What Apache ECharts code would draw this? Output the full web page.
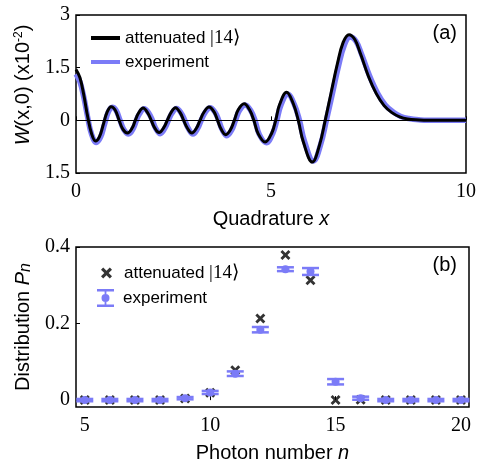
<!DOCTYPE html>
<html>
<head>
<meta charset="utf-8">
<script src="https://cdn.jsdelivr.net/npm/echarts@6/dist/echarts.min.js"></script>
<style>html,body{margin:0;padding:0;background:#fff;}#c{width:479px;height:466px;}</style>
</head>
<body>
<div id="c"></div>
<script>
// ---- Panel (a): Wigner function W(x,0) (x10^-2) ----
const theoryX = [0,0.1,0.2,0.3,0.4,0.5,0.6,0.7,0.8,0.9,1.0,1.1,1.2,1.32,1.44,1.52,1.6,1.72,1.84,1.93,2.01,2.13,2.25,2.34,2.43,2.55,2.67,2.76,2.85,2.97,3.09,3.18,3.28,3.41,3.54,3.63,3.72,3.84,3.96,4.06,4.16,4.31,4.45,4.56,4.67,4.85,5.02,5.12,5.22,5.4,5.57,5.7,5.83,6.06,6.24,6.39,6.54,6.7,6.85,7.0,7.15,7.3,7.5,7.7,7.9,8.1,8.3,8.5,8.8,9.0,10];
const theoryW = [1.45,1.22,0.72,0.1,-0.38,-0.59,-0.47,-0.12,0.24,0.39,0.30,0.02,-0.25,-0.36,-0.22,0.0,0.2,0.35,0.21,0.0,-0.2,-0.35,-0.21,0.0,0.21,0.36,0.22,0.0,-0.21,-0.36,-0.22,0.0,0.23,0.38,0.24,0.0,-0.25,-0.41,-0.27,0.0,0.3,0.47,0.3,0.0,-0.38,-0.62,-0.36,0.0,0.45,0.8,0.48,0.0,-0.62,-1.19,-0.72,0.0,0.78,1.6,2.22,2.44,2.3,1.88,1.25,0.76,0.42,0.22,0.1,0.04,0.01,0.0,0.0];
const expX = [0,0.1,0.2,0.3,0.4,0.52,0.63,0.73,0.83,0.93,1.03,1.13,1.23,1.35,1.47,1.55,1.63,1.75,1.87,1.96,2.04,2.16,2.28,2.37,2.46,2.58,2.7,2.79,2.88,3.0,3.12,3.21,3.31,3.44,3.57,3.66,3.75,3.87,3.99,4.09,4.19,4.34,4.48,4.59,4.7,4.88,5.05,5.15,5.25,5.43,5.6,5.73,5.86,6.09,6.27,6.42,6.57,6.73,6.88,7.03,7.18,7.33,7.53,7.73,7.93,8.13,8.33,8.53,8.83,9.03,10];
const expW = [1.32,1.1,0.66,0.08,-0.4,-0.63,-0.48,-0.12,0.24,0.37,0.28,0.0,-0.27,-0.39,-0.23,0.0,0.19,0.33,0.2,0.0,-0.22,-0.38,-0.22,0.0,0.2,0.34,0.2,0.0,-0.23,-0.39,-0.23,0.0,0.22,0.36,0.22,0.0,-0.27,-0.44,-0.28,0.0,0.28,0.44,0.28,0.0,-0.4,-0.64,-0.36,0.0,0.42,0.74,0.45,0.0,-0.6,-1.16,-0.7,0.0,0.74,1.54,2.14,2.37,2.25,1.86,1.26,0.78,0.44,0.24,0.11,0.05,0.01,0.0,0.0];
const quadTicks = [0,5,10];
const wTicks = [-1.5,0,1.5,3];

// ---- Panel (b): photon number distribution ----
const photonN = [5,6,7,8,9,10,11,12,13,14,15,16,17,18,19,20];
const theoryP = [0.000,0.000,0.000,0.000,0.004,0.019,0.078,0.213,0.379,0.313,0.000,0.001,0.000,0.000,0.000,0.000];
const expP    = [0.000,0.000,0.000,0.000,0.005,0.020,0.069,0.184,0.342,0.336,0.048,0.005,0.000,0.000,0.000,0.000];
const expErr  = [0.003,0.003,0.003,0.003,0.003,0.004,0.006,0.007,0.005,0.009,0.007,0.004,0.003,0.003,0.003,0.003];
const nTicks = [5,10,15,20];
const pTicks = [0,0.2,0.4];

const BLUE = '#7b7bf7';
const SANS = 'Liberation Sans, Arial, Helvetica, sans-serif';
const SERIF = 'Liberation Serif, Times New Roman, serif';
const crossPath = 'path://M0,2L2,0L5,3L8,0L10,2L7,5L10,8L8,10L5,7L2,10L0,8L3,5Z';
const errIcon = 'path://M0,0L17,0L17,2.5L0,2.5Z M0,15.5L17,15.5L17,18L0,18Z M7.6,0L9.4,0L9.4,18L7.6,18Z M4.5,9A4,4 0 1,1 12.5,9A4,4 0 1,1 4.5,9Z';

const chart = echarts.init(document.getElementById('c'), null, {renderer:'canvas'});

const axisLabelSerif = {color:'#000', fontFamily:SERIF, fontSize:20};
const nameStyle = {color:'#000', fontFamily:SANS, fontSize:20, rich:{
  i:{fontStyle:'italic', fontFamily:SANS, fontSize:20, color:'#000'},
  s:{fontFamily:SANS, fontSize:12, color:'#000', verticalAlign:'top', padding:[0,0,9,0]},
  sub:{fontStyle:'italic', fontFamily:SANS, fontSize:16, color:'#000', padding:[6,0,0,0]}
}};

const legendText = {color:'#000', fontFamily:SANS, fontSize:17, lineHeight:20,
  rich:{m:{fontFamily:SERIF, fontSize:19, color:'#000', lineHeight:20}}};

chart.setOption({
  backgroundColor:'#fff',
  animation:false,
  title:[
    {text:'(a)', right:17, top:18, textStyle:{fontFamily:SANS, fontSize:20, fontWeight:'normal', color:'#000'}},
    {text:'(b)', right:17, top:250, textStyle:{fontFamily:SANS, fontSize:20, fontWeight:'normal', color:'#000'}}
  ],
  legend:[
    {orient:'vertical', left:86, top:23, itemWidth:29, itemHeight:4, itemGap:4, selectedMode:false,
     textStyle:Object.assign({padding:[0,0,0,0]}, legendText),
     data:[{name:'attenuated', icon:'rect'},{name:'experiment', icon:'rect'}],
     formatter:n => n==='attenuated' ? 'attenuated {m||14⟩}' : 'experiment'},
    {orient:'vertical', left:96, top:258, itemWidth:11, itemHeight:11, selectedMode:false,
     textStyle:Object.assign({padding:[0,0,0,7]}, legendText),
     data:[{name:'thB', icon:crossPath}],
     formatter:() => 'attenuated {m||14⟩}'},
    {orient:'vertical', left:92, top:283, itemWidth:17, itemHeight:18, selectedMode:false,
     textStyle:Object.assign({padding:[0,0,0,4]}, legendText),
     data:[{name:'expB', icon:errIcon}],
     formatter:() => 'experiment'}
  ],
  grid:[
    {left:76, top:15, width:393, height:158, show:true, borderColor:'#000', borderWidth:1.5, backgroundColor:'rgba(0,0,0,0)'},
    {left:76, top:247, width:393, height:160, show:true, borderColor:'#000', borderWidth:1.5, backgroundColor:'rgba(0,0,0,0)'}
  ],
  xAxis:[
    {type:'value', gridIndex:0, min:0, max:10, interval:5,
     axisLine:{show:false}, splitLine:{show:false},
     axisTick:{inside:true, length:4, lineStyle:{color:'#000'}},
     axisLabel:Object.assign({margin:9, customValues:quadTicks}, axisLabelSerif),
     name:'Quadrature {i|x}', nameLocation:'middle', nameGap:36, nameTextStyle:nameStyle},
    {type:'value', gridIndex:1, min:4.65, max:20.32,
     axisLine:{show:false}, splitLine:{show:false},
     axisTick:{inside:true, length:4, customValues:nTicks, lineStyle:{color:'#000'}},
     axisLabel:Object.assign({margin:9, customValues:nTicks}, axisLabelSerif),
     name:'Photon number {i|n}', nameLocation:'middle', nameGap:36, nameTextStyle:nameStyle}
  ],
  yAxis:[
    {type:'value', gridIndex:0, min:-1.5, max:3, interval:1.5,
     axisLine:{show:false}, splitLine:{show:false},
     axisTick:{inside:true, length:4, lineStyle:{color:'#000'}},
     axisLabel:Object.assign({margin:6, customValues:wTicks, formatter:v => v===0 ? '0' : String(Math.abs(v))}, axisLabelSerif),
     name:'{i|W}(x,0) (x10{s|-2})', nameLocation:'middle', nameGap:42, nameRotate:90,
     nameTextStyle:Object.assign({}, nameStyle, {padding:[0,0,0,18]})},
    {type:'value', gridIndex:1, min:-0.018, max:0.4,
     axisLine:{show:false}, splitLine:{show:false},
     axisTick:{inside:true, length:4, customValues:pTicks, lineStyle:{color:'#000'}},
     axisLabel:Object.assign({margin:6, customValues:pTicks, formatter:v => v===0 ? '0' : v.toFixed(1)}, axisLabelSerif),
     name:'Distribution {i|P}{sub|n}', nameLocation:'middle', nameGap:42, nameRotate:90, nameTextStyle:nameStyle}
  ],
  series:[
    {name:'experiment', type:'line', xAxisIndex:0, yAxisIndex:0, showSymbol:false, smooth:0.4,
     data:expX.map((x,i)=>[x, expW[i]]), color:BLUE,
     lineStyle:{color:BLUE, width:5.5}, z:2,
     markLine:{silent:true, symbol:'none', label:{show:false}, lineStyle:{color:'#000', width:1, type:'solid'}, data:[{yAxis:0}]}},
    {name:'attenuated', type:'line', xAxisIndex:0, yAxisIndex:0, showSymbol:false, smooth:0.4,
     data:theoryX.map((x,i)=>[x, theoryW[i]]), color:'#000',
     lineStyle:{color:'#000', width:3}, z:3},
    {name:'thB', type:'scatter', xAxisIndex:1, yAxisIndex:1, symbol:crossPath, symbolSize:10,
     data:photonN.map((n,i)=>[n, theoryP[i]]), itemStyle:{color:'#000'}, z:2},
    {name:'expB', type:'custom', xAxisIndex:1, yAxisIndex:1, z:3,
     itemStyle:{color:BLUE},
     data:photonN.map((n,i)=>[n, expP[i], expErr[i]]),
     encode:{x:0, y:1},
     renderItem:function(params, api){
       const x = api.value(0), y = api.value(1), e = api.value(2);
       const c = api.coord([x,y]);
       const t = api.coord([x,y+e]);
       const b = api.coord([x,y-e]);
       const hw = 8.5;
       return {type:'group', children:[
         {type:'line', shape:{x1:c[0], y1:t[1], x2:c[0], y2:b[1]}, style:{stroke:BLUE, lineWidth:2}},
         {type:'line', shape:{x1:c[0]-hw, y1:t[1], x2:c[0]+hw, y2:t[1]}, style:{stroke:BLUE, lineWidth:2.5}},
         {type:'line', shape:{x1:c[0]-hw, y1:b[1], x2:c[0]+hw, y2:b[1]}, style:{stroke:BLUE, lineWidth:2.5}},
         {type:'circle', shape:{cx:c[0], cy:c[1], r:4}, style:{fill:BLUE}}
       ]};
     }}
  ]
});
</script>
</body>
</html>
